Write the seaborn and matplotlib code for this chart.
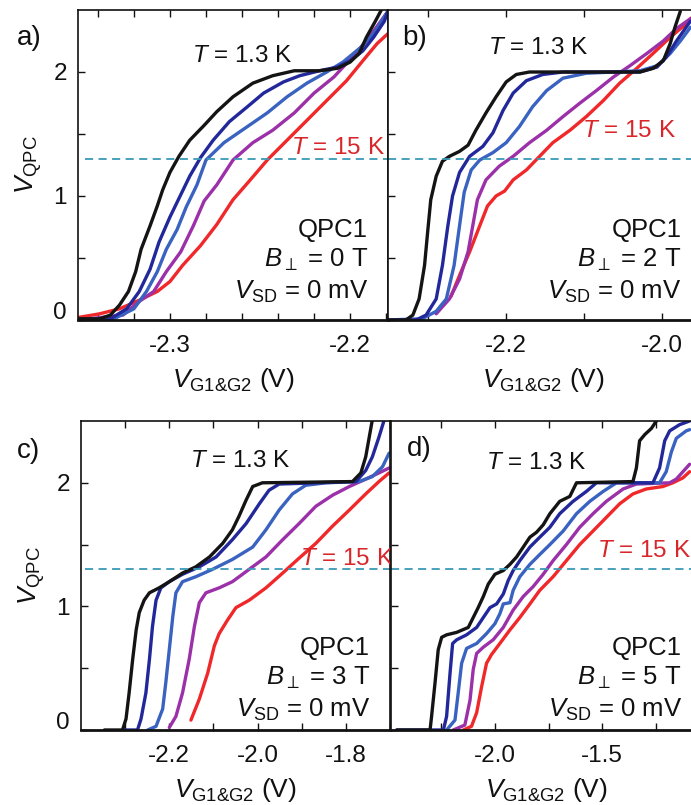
import numpy as np
import pandas as pd
import matplotlib
matplotlib.use("Agg")
import matplotlib.pyplot as plt
import matplotlib.transforms as mtransforms
import seaborn as sns
from matplotlib.ticker import FixedLocator, NullFormatter
from matplotlib.mathtext import MathTextParser

sns.set_style("ticks")
plt.rcParams["font.family"] = ["Liberation Sans", "DejaVu Sans"]
plt.rcParams["mathtext.fontset"] = "custom"
plt.rcParams["mathtext.rm"] = "Liberation Sans"
plt.rcParams["mathtext.it"] = "Liberation Sans:italic"
plt.rcParams["mathtext.bf"] = "Liberation Sans:bold"
plt.rcParams["axes.unicode_minus"] = False
plt.rcParams["text.color"] = "#111111"
plt.rcParams["axes.labelcolor"] = "#111111"
plt.rcParams["xtick.color"] = "#111111"
plt.rcParams["ytick.color"] = "#111111"

# ---------------- data ----------------
series_names = ["15 K", "T4", "T3", "T2", "1.3 K"]          # draw order: red first, black last
series_colors = ["#f0282a", "#9b30a8", "#3a62c0", "#22289a", "#141414"]
dash_level = 1.3

# panel a: B = 0 T
a_red_x = [-2.351, -2.339, -2.328, -2.317, -2.307, -2.300, -2.293, -2.283, -2.274, -2.265, -2.256, -2.246, -2.235, -2.224, -2.213, -2.202, -2.193, -2.185, -2.179]
a_red_y = [0.02, 0.05, 0.09, 0.16, 0.23, 0.31, 0.44, 0.60, 0.77, 0.97, 1.12, 1.29, 1.45, 1.61, 1.77, 1.93, 2.09, 2.23, 2.31]
a_pur_x = [-2.351, -2.326, -2.317, -2.309, -2.302, -2.294, -2.287, -2.281, -2.274, -2.265, -2.254, -2.243, -2.231, -2.220, -2.209, -2.202, -2.194, -2.187, -2.180]
a_pur_y = [0.0, 0.04, 0.15, 0.23, 0.39, 0.55, 0.76, 0.96, 1.09, 1.29, 1.43, 1.53, 1.67, 1.83, 1.96, 2.07, 2.20, 2.33, 2.47]
a_blu_x = [-2.351, -2.331, -2.320, -2.313, -2.307, -2.302, -2.296, -2.291, -2.285, -2.280, -2.270, -2.257, -2.246, -2.235, -2.224, -2.213, -2.204, -2.194, -2.187, -2.179]
a_blu_y = [0.0, 0.01, 0.09, 0.23, 0.39, 0.57, 0.73, 0.91, 1.09, 1.29, 1.43, 1.56, 1.67, 1.80, 1.91, 2.00, 2.08, 2.20, 2.31, 2.49]
a_nav_x = [-2.351, -2.333, -2.324, -2.317, -2.311, -2.306, -2.300, -2.294, -2.289, -2.283, -2.276, -2.267, -2.257, -2.248, -2.237, -2.228, -2.217, -2.207, -2.200, -2.193, -2.187, -2.181, -2.179]
a_nav_y = [0.0, 0.01, 0.09, 0.23, 0.41, 0.63, 0.83, 1.01, 1.16, 1.31, 1.45, 1.60, 1.72, 1.83, 1.92, 1.97, 2.01, 2.04, 2.09, 2.17, 2.28, 2.41, 2.49]
a_blk_x = [-2.351, -2.339, -2.333, -2.328, -2.323, -2.319, -2.316, -2.311, -2.307, -2.304, -2.300, -2.295, -2.289, -2.281, -2.274, -2.265, -2.254, -2.243, -2.231, -2.217, -2.207, -2.200, -2.195, -2.191, -2.186, -2.182]
a_blk_y = [0.01, 0.01, 0.04, 0.12, 0.23, 0.39, 0.57, 0.76, 0.92, 1.05, 1.19, 1.32, 1.45, 1.57, 1.68, 1.80, 1.91, 1.97, 2.01, 2.01, 2.03, 2.08, 2.15, 2.28, 2.41, 2.52]

# panel b: B = 2 T
b_red_x = [-2.271, -2.260, -2.247, -2.234, -2.224, -2.213, -2.202, -2.191, -2.174, -2.157, -2.140, -2.118, -2.097, -2.075, -2.054, -2.032, -2.011, -1.989, -1.972, -1.961]
b_red_y = [0.19, 0.36, 0.55, 0.76, 0.92, 1.0, 1.04, 1.13, 1.21, 1.32, 1.43, 1.53, 1.64, 1.77, 1.91, 2.03, 2.15, 2.28, 2.37, 2.44]
b_pur_x = [-2.290, -2.273, -2.260, -2.249, -2.243, -2.237, -2.226, -2.209, -2.191, -2.170, -2.148, -2.127, -2.105, -2.084, -2.062, -2.041, -2.019, -1.998, -1.981, -1.963]
b_pur_y = [0.05, 0.17, 0.33, 0.55, 0.76, 0.97, 1.13, 1.24, 1.32, 1.43, 1.53, 1.64, 1.75, 1.85, 1.96, 2.05, 2.15, 2.25, 2.35, 2.43]
b_blu_x = [-2.353, -2.308, -2.290, -2.277, -2.267, -2.260, -2.254, -2.245, -2.234, -2.217, -2.200, -2.183, -2.166, -2.148, -2.127, -2.097, -2.062, -2.028, -2.006, -1.989, -1.976, -1.963]
b_blu_y = [0.0, 0.01, 0.07, 0.17, 0.44, 0.76, 1.03, 1.21, 1.29, 1.35, 1.43, 1.56, 1.72, 1.85, 1.95, 1.99, 2.0, 2.01, 2.05, 2.15, 2.25, 2.36]
b_nav_x = [-2.353, -2.316, -2.303, -2.290, -2.282, -2.275, -2.269, -2.260, -2.247, -2.230, -2.217, -2.204, -2.191, -2.174, -2.153, -2.127, -2.028, -2.006, -1.994, -1.981, -1.963]
b_nav_y = [0.0, 0.0, 0.04, 0.17, 0.44, 0.76, 1.0, 1.19, 1.32, 1.40, 1.51, 1.69, 1.83, 1.93, 1.98, 2.0, 2.0, 2.04, 2.12, 2.25, 2.41]
b_blk_x = [-2.353, -2.329, -2.320, -2.312, -2.305, -2.301, -2.297, -2.290, -2.282, -2.273, -2.260, -2.249, -2.239, -2.226, -2.213, -2.200, -2.187, -2.170, -2.105, -2.028, -2.011, -1.998, -1.989, -1.983, -1.976]
b_blk_y = [0.0, 0.0, 0.04, 0.17, 0.44, 0.71, 0.97, 1.16, 1.28, 1.32, 1.36, 1.41, 1.53, 1.67, 1.80, 1.92, 1.98, 2.0, 2.0, 2.0, 2.03, 2.09, 2.23, 2.36, 2.49]

# panel c: B = 3 T
c_red_x = [-2.151, -2.132, -2.113, -2.098, -2.087, -2.068, -2.049, -2.019, -1.981, -1.943, -1.906, -1.868, -1.830, -1.792, -1.755, -1.725, -1.702]
c_red_y = [0.08, 0.25, 0.46, 0.68, 0.78, 0.89, 0.99, 1.05, 1.15, 1.27, 1.39, 1.51, 1.65, 1.78, 1.91, 2.01, 2.08]
c_pur_x = [-2.200, -2.185, -2.170, -2.155, -2.143, -2.132, -2.117, -2.087, -2.057, -2.019, -1.981, -1.943, -1.906, -1.868, -1.830, -1.792, -1.755, -1.725, -1.702]
c_pur_y = [0.02, 0.11, 0.30, 0.57, 0.84, 1.03, 1.11, 1.15, 1.20, 1.30, 1.40, 1.54, 1.67, 1.81, 1.90, 1.97, 2.03, 2.08, 2.12]
c_blu_x = [-2.249, -2.230, -2.215, -2.208, -2.200, -2.192, -2.185, -2.170, -2.140, -2.102, -2.057, -2.011, -1.981, -1.951, -1.921, -1.891, -1.845, -1.770, -1.740, -1.717, -1.702]
c_blu_y = [0.0, 0.03, 0.17, 0.38, 0.65, 0.92, 1.11, 1.20, 1.24, 1.30, 1.38, 1.48, 1.62, 1.78, 1.91, 1.98, 2.0, 2.01, 2.05, 2.13, 2.24]
c_nav_x = [-2.302, -2.272, -2.264, -2.253, -2.245, -2.238, -2.230, -2.219, -2.200, -2.170, -2.132, -2.094, -2.057, -2.026, -1.996, -1.974, -1.951, -1.777, -1.755, -1.740, -1.725, -1.713]
c_nav_y = [0.0, 0.0, 0.09, 0.30, 0.57, 0.84, 1.05, 1.15, 1.20, 1.26, 1.32, 1.40, 1.54, 1.67, 1.83, 1.94, 1.99, 2.01, 2.10, 2.21, 2.37, 2.51]
c_blk_x = [-2.347, -2.306, -2.298, -2.291, -2.283, -2.275, -2.268, -2.257, -2.245, -2.223, -2.200, -2.170, -2.140, -2.109, -2.079, -2.057, -2.042, -2.026, -2.011, -1.989, -1.785, -1.766, -1.755, -1.747, -1.740]
c_blk_y = [0.0, 0.0, 0.09, 0.30, 0.57, 0.81, 0.95, 1.05, 1.11, 1.15, 1.20, 1.27, 1.32, 1.40, 1.51, 1.62, 1.73, 1.86, 1.97, 2.0, 2.01, 2.08, 2.21, 2.37, 2.51]

# panel d: B = 5 T
d_red_x = [-2.147, -2.109, -2.085, -2.062, -2.039, -2.016, -1.977, -1.930, -1.884, -1.837, -1.791, -1.729, -1.667, -1.605, -1.543, -1.481, -1.419, -1.357, -1.295, -1.217, -1.171, -1.124, -1.093]
d_red_y = [0.0, 0.03, 0.14, 0.35, 0.54, 0.61, 0.70, 0.81, 0.91, 1.02, 1.13, 1.24, 1.37, 1.50, 1.61, 1.72, 1.83, 1.91, 1.95, 1.97, 2.0, 2.04, 2.09]
d_pur_x = [-2.194, -2.140, -2.116, -2.101, -2.085, -2.054, -2.008, -1.961, -1.915, -1.868, -1.822, -1.775, -1.729, -1.667, -1.605, -1.543, -1.481, -1.403, -1.341, -1.186, -1.155, -1.124, -1.093]
d_pur_y = [0.0, 0.04, 0.24, 0.49, 0.62, 0.67, 0.73, 0.83, 0.97, 1.08, 1.16, 1.26, 1.37, 1.50, 1.64, 1.75, 1.85, 1.95, 1.99, 2.0, 2.03, 2.09, 2.15]
d_blu_x = [-2.225, -2.186, -2.171, -2.155, -2.132, -2.085, -2.039, -2.000, -1.977, -1.961, -1.930, -1.915, -1.884, -1.837, -1.791, -1.744, -1.682, -1.620, -1.558, -1.496, -1.434, -1.233, -1.202, -1.178, -1.155, -1.109, -1.093]
d_blu_y = [0.0, 0.08, 0.30, 0.54, 0.66, 0.70, 0.78, 0.86, 0.94, 1.02, 1.03, 1.13, 1.24, 1.34, 1.42, 1.50, 1.61, 1.75, 1.85, 1.93, 2.0, 2.0, 2.09, 2.25, 2.36, 2.42, 2.43]
d_nav_x = [-2.457, -2.240, -2.225, -2.209, -2.197, -2.178, -2.132, -2.085, -2.054, -2.023, -1.992, -1.961, -1.938, -1.915, -1.884, -1.837, -1.791, -1.744, -1.698, -1.636, -1.574, -1.527, -1.264, -1.233, -1.209, -1.186, -1.140, -1.093]
d_nav_y = [0.0, 0.0, 0.11, 0.46, 0.70, 0.73, 0.77, 0.83, 0.91, 0.99, 1.02, 1.10, 1.21, 1.29, 1.37, 1.48, 1.56, 1.64, 1.75, 1.85, 1.93, 2.0, 2.0, 2.12, 2.34, 2.42, 2.47, 2.50]
d_blk_x = [-2.457, -2.302, -2.295, -2.279, -2.264, -2.248, -2.225, -2.178, -2.124, -2.101, -2.078, -2.054, -2.031, -2.000, -1.961, -1.930, -1.899, -1.868, -1.837, -1.806, -1.775, -1.744, -1.698, -1.651, -1.620, -1.357, -1.341, -1.326, -1.302, -1.271, -1.248]
d_blk_y = [0.0, 0.0, 0.11, 0.38, 0.65, 0.75, 0.77, 0.79, 0.83, 0.91, 0.99, 1.08, 1.18, 1.26, 1.29, 1.34, 1.40, 1.48, 1.56, 1.60, 1.66, 1.75, 1.85, 1.89, 2.0, 2.01, 2.12, 2.34, 2.39, 2.44, 2.50]

panel_letters = ["a)", "b)", "c)", "d)"]
b_fields = ["0", "2", "3", "5"]
x_limits = [(-2.351, -2.179), (-2.352, -1.952), (-2.40, -1.70), (-2.484, -1.04)]
x_major = [[-2.3, -2.2], [-2.2, -2.0], [-2.2, -2.0, -1.8], [-2.0, -1.5]]
x_major_labels = [["-2.3", "-2.2"], ["-2.2", "-2.0"], ["-2.2", "-2.0", "-1.8"], ["-2.0", "-1.5"]]
x_minor = [[-2.34, -2.32, -2.28, -2.26, -2.24, -2.22, -2.18],
           [-2.3, -2.1],
           [-2.3, -2.1, -1.9, -1.7],
           [-2.25, -1.75, -1.25]]
y_major = [0, 1, 2]
y_minor = [0.5, 1.5]

curves = [
    [(a_red_x, a_red_y), (a_pur_x, a_pur_y), (a_blu_x, a_blu_y), (a_nav_x, a_nav_y), (a_blk_x, a_blk_y)],
    [(b_red_x, b_red_y), (b_pur_x, b_pur_y), (b_blu_x, b_blu_y), (b_nav_x, b_nav_y), (b_blk_x, b_blk_y)],
    [(c_red_x, c_red_y), (c_pur_x, c_pur_y), (c_blu_x, c_blu_y), (c_nav_x, c_nav_y), (c_blk_x, c_blk_y)],
    [(d_red_x, d_red_y), (d_pur_x, d_pur_y), (d_blu_x, d_blu_y), (d_nav_x, d_nav_y), (d_blk_x, d_blk_y)],
]

# pick an x-label string that mathtext accepts
_parser = MathTextParser("path")
xlabel_text = "V_G1&G2 (V)"
for cand in [r"$V_{\text{G1&G2}}$ (V)", r"$V_{\mathrm{G1&G2}}$ (V)", r"$V_{\mathrm{G1}&\mathrm{G2}}$ (V)"]:
    try:
        _parser.parse(cand.split(" (V)")[0], 72, matplotlib.font_manager.FontProperties())
        xlabel_text = cand
        break
    except Exception:
        continue

# ---------------- layout ----------------
W, H = 691, 805
fig = plt.figure(figsize=(W / 100, H / 100), dpi=100)
fig.patch.set_facecolor("white")

boxes = [(78, 10, 310, 310), (388, 10, 311, 310), (81, 421, 309, 309), (391, 421, 310, 309)]
letter_pos = [(-0.197, 0.91), (0.045, 0.91), (-0.207, 0.902), (0.05, 0.91)]
t13_pos = [(0.529, 0.852), (0.482, 0.879), (0.515, 0.87), (0.47, 0.865)]
t15_pos = [(0.84, 0.556), (0.775, 0.61), (0.86, 0.553), (0.815, 0.579)]
info_x = [0.935, 0.944, 0.935, 0.938]
info_y = [(0.29, 0.194, 0.091), (0.29, 0.194, 0.091), (0.264, 0.167, 0.065), (0.264, 0.167, 0.065)]
dash_start = [0.022, 0.0, 0.013, 0.0]

FS_TEXT = 17.5
FS_INFO = 18.5
FS_TICK = 17.5
FS_LABEL = 19

for i, (l, t, w, h) in enumerate(boxes):
    ax = fig.add_axes([l / W, (H - t - h) / H, w / W, h / H])
    ax.set_facecolor("white")
    for (xs, ys), col, name in zip(curves[i], series_colors, series_names):
        df = pd.DataFrame({"x": xs, "y": ys})
        sns.lineplot(data=df, x="x", y="y", ax=ax, color=col, lw=2.4,
                     sort=False, estimator=None, legend=False, solid_capstyle="round")
    ax.axhline(dash_level, xmin=dash_start[i], xmax=1, color="#3a9ab8",
               lw=1.3, ls=(0, (4.5, 3)))
    ax.set_xlim(*x_limits[i])
    ax.set_ylim(0, 2.5)
    ax.set_xlabel("")
    ax.set_ylabel("")

    ax.xaxis.set_major_locator(FixedLocator(x_major[i]))
    ax.set_xticklabels(x_major_labels[i])
    ax.xaxis.set_minor_locator(FixedLocator(x_minor[i]))
    ax.yaxis.set_major_locator(FixedLocator(y_major))
    ax.yaxis.set_minor_locator(FixedLocator(y_minor))
    ax.yaxis.set_minor_formatter(NullFormatter())
    ax.xaxis.set_minor_formatter(NullFormatter())

    left_labels = i in (0, 2)
    ax.tick_params(which="both", direction="in", top=True, bottom=True,
                   left=True, right=False, length=5, width=1.0, color="#111111")
    ax.tick_params(axis="x", which="major", labelsize=FS_TICK, pad=11)
    ax.tick_params(axis="y", which="major", labelsize=FS_TICK, pad=8,
                   labelleft=left_labels)
    for s in ax.spines.values():
        s.set_linewidth(1.2)
        s.set_color("#111111")
    ax.spines["right"].set_visible(i in (0, 2))
    ax.spines["bottom"].set_linewidth(2.0)

    if left_labels:
        # the zero label sits a little above its tick in the original
        lab0 = ax.get_yticklabels()[0]
        lab0.set_transform(lab0.get_transform() +
                           mtransforms.ScaledTranslation(0, 7 / 72, fig.dpi_scale_trans))

    ax.set_xlabel(xlabel_text, fontsize=FS_LABEL, labelpad=6)
    if left_labels:
        ax.set_ylabel(r"$V_{\mathrm{QPC}}$", fontsize=FS_LABEL, labelpad=7)

    ax.text(*letter_pos[i], panel_letters[i], transform=ax.transAxes,
            fontsize=20, ha="left", va="center")
    ax.text(*t13_pos[i], r"$T$ = 1.3 K", transform=ax.transAxes,
            fontsize=FS_TEXT, ha="center", va="center")
    ax.text(*t15_pos[i], r"$T$ = 15 K", transform=ax.transAxes,
            fontsize=FS_TEXT, ha="center", va="center", color="#d8262a")
    ax.text(info_x[i], info_y[i][0], "QPC1", transform=ax.transAxes,
            fontsize=FS_INFO, ha="right", va="center")
    ax.text(info_x[i], info_y[i][1], r"$B_{\perp}$ = " + b_fields[i] + " T",
            transform=ax.transAxes, fontsize=FS_INFO, ha="right", va="center")
    ax.text(info_x[i], info_y[i][2], r"$V_{\mathrm{SD}}$ = 0 mV", transform=ax.transAxes,
            fontsize=FS_INFO, ha="right", va="center")

fig.savefig("out.png", dpi=100, facecolor="white")
